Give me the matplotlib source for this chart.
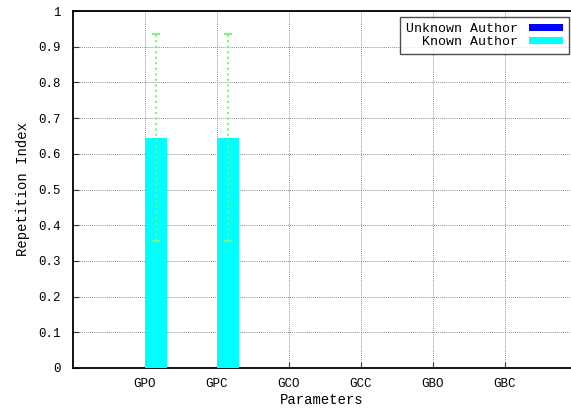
import matplotlib
matplotlib.use("Agg")
import matplotlib.pyplot as plt
from matplotlib.patches import Patch
import numpy as np

categories = ["GPO", "GPC", "GCO", "GCC", "GBO", "GBC"]
series_names = ["Unknown Author", "Known Author"]
unknown_vals = [0, 0, 0, 0, 0, 0]
known_vals = [0.645, 0.645, 0, 0, 0, 0]
known_err = [0.29, 0.29, 0, 0, 0, 0]
colors = ["#0000ff", "#00ffff"]

plt.rcParams["font.family"] = ["Liberation Mono", "DejaVu Sans Mono"]

W, H = 571, 409
fig = plt.figure(figsize=(W / 100, H / 100), dpi=100)
left, right, top, bottom = 73, 571, 11, 368
ax = fig.add_axes([left / W, (H - bottom) / H, (right - left) / W, (bottom - top) / H])

x = np.arange(len(categories))
bw = 0.3
ax.bar(x - bw / 2, unknown_vals, bw, color=colors[0], zorder=3)
ax.bar(x + bw / 2, known_vals, bw, color=colors[1], zorder=3)
idx = [i for i, v in enumerate(known_err) if v > 0]
eb = ax.errorbar(x[idx] + bw / 2 + 0.005, np.array(known_vals)[idx], yerr=np.array(known_err)[idx],
                 fmt="none", ecolor="#7cf57c", elinewidth=1.5, capsize=3, capthick=1.5, zorder=4)
for lc in eb[2]:
    lc.set_linestyle(":")

ax.set_xlim(-1, 5.92)
ax.set_ylim(0, 1)
ax.set_xticks(x)
ax.set_xticklabels(categories, fontsize=9)
yt = np.round(np.arange(0, 1.01, 0.1), 1)
ax.set_yticks(yt)
ax.set_yticklabels(["0"] + [f"{v:.1f}" for v in yt[1:-1]] + ["1"], fontsize=9)
ax.tick_params(direction="in", length=4, width=0.8, color="#333333", pad=9)
ax.tick_params(axis="x", top=False, pad=7)
ax.grid(True, linestyle=(0, (1, 1.5)), color="#666666", linewidth=0.6, zorder=0)
ax.set_axisbelow(True)
for s in ["left", "bottom", "top"]:
    ax.spines[s].set_linewidth(1.3)
ax.spines["right"].set_visible(False)

ax.set_xlabel("Parameters", fontsize=10, labelpad=2)
ax.set_ylabel("Repetition Index", fontsize=10, labelpad=6)

n = max(len(s) for s in series_names)
handles = [Patch(facecolor=c, edgecolor="none") for c in colors]
labels = [s.rjust(n) for s in series_names]
leg = ax.legend(handles, labels, loc="upper right", bbox_to_anchor=(0.996, 0.983),
                markerfirst=False, fontsize=9.5, frameon=True, fancybox=False,
                handlelength=2.6, handleheight=0.5, handletextpad=0.8,
                borderpad=0.45, labelspacing=0.1, borderaxespad=0)
leg.get_frame().set_edgecolor("#222222")
leg.get_frame().set_linewidth(1.0)
leg.set_zorder(10)

fig.savefig("out.png", dpi=100)
